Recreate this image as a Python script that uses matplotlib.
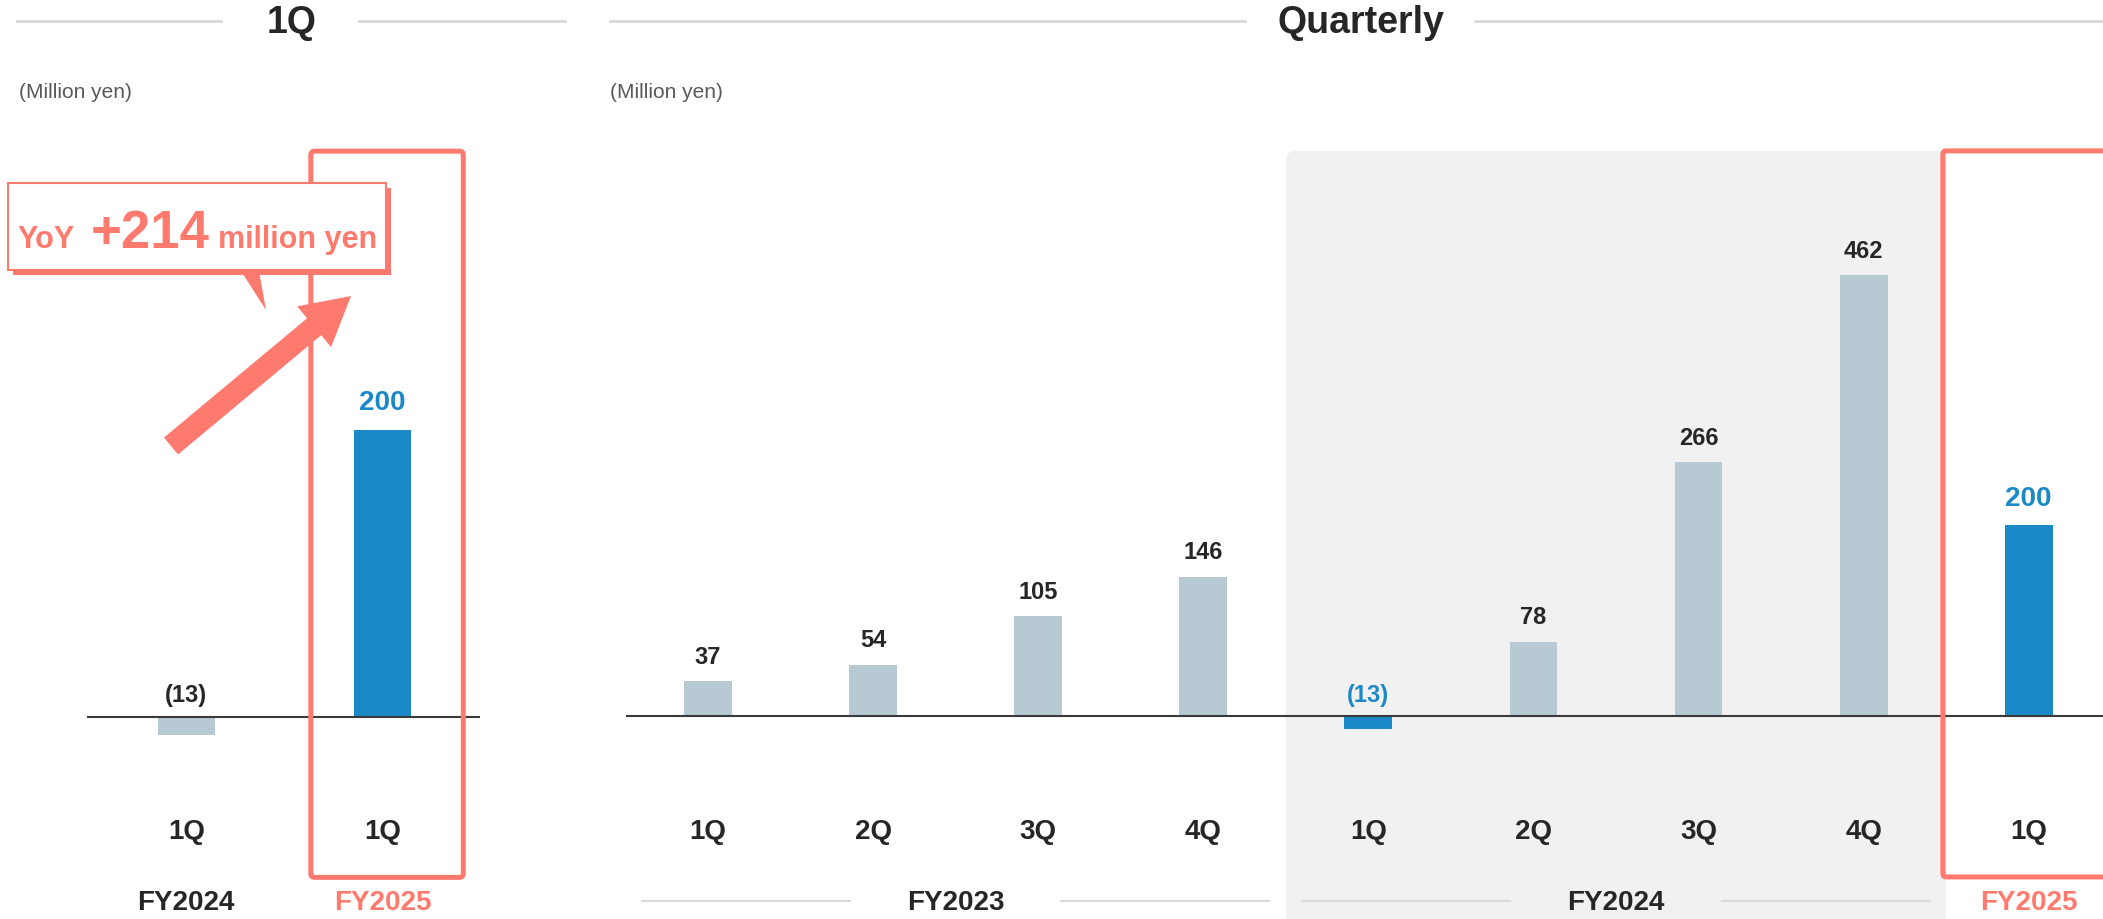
import matplotlib
matplotlib.use('Agg')
import matplotlib.pyplot as plt
from matplotlib.patches import Rectangle, FancyBboxPatch, FancyArrow, Polygon

plt.rcParams['font.family'] = ['Liberation Sans', 'DejaVu Sans']

# 1Q year-on-year
yoy_years = ['FY2024', 'FY2025']
yoy_quarters = ['1Q', '1Q']
yoy_values = [-13, 200]
yoy_diff = 214

# quarterly
q_quarters = ['1Q', '2Q', '3Q', '4Q', '1Q', '2Q', '3Q', '4Q', '1Q']
q_values = [37, 54, 105, 146, -13, 78, 266, 462, 200]
q_years = ['FY2023', 'FY2024', 'FY2025']
q_year_len = [4, 4, 1]

LIGHT = '#b7c9d3'
BLUE = '#1b88c8'
SALMON = '#ff7a6e'
DARK = '#262626'
GREYLINE = '#d9d9d9'

W, H = 2103, 920
fig = plt.figure(figsize=(W / 100, H / 100), dpi=100)


def fmt(v):
    return f'({abs(v)})' if v < 0 else str(v)


def draw_bars(ax, values, quarters, highlight):
    x = list(range(len(values)))
    colors = [BLUE if i in highlight else LIGHT for i in x]
    ax.bar(x, values, width=0.29, color=colors, zorder=2)
    ax.axhline(0, color='#3a3a3a', lw=1.5, zorder=3)
    for i, v in enumerate(values):
        big = i in highlight and v > 0
        col = BLUE if i in highlight else DARK
        off = 20 if big else (18 if v > 0 else 16)
        ax.annotate(fmt(v), (i, max(v, 0)), xytext=(0, off), textcoords='offset points',
                    ha='center', va='center', fontsize=20 if big else 17,
                    fontweight='bold', color=col)
    tr = ax.get_xaxis_transform()
    for i, q in enumerate(quarters):
        ax.text(i, 1 - 832 / H, q, transform=tr, ha='center', va='center',
                fontsize=20, fontweight='bold', color=DARK)
    ax.axis('off')


# left panel
ax1 = fig.add_axes([87 / W, 0, 393 / W, 1], zorder=1)
ax1.set_xlim(-0.505, 1.495)
ax1.set_ylim(-141, 500)
draw_bars(ax1, yoy_values, yoy_quarters, highlight=[1])
tr1 = ax1.get_xaxis_transform()
for i, yr in enumerate(yoy_years):
    ax1.text(i, 1 - 903 / H, yr, transform=tr1, ha='center', va='center',
             fontsize=20, fontweight='bold', color=SALMON if i == 1 else DARK)
ax1.add_patch(FancyBboxPatch((0.634, -112), 0.776, 506,
                             boxstyle='round,pad=0,rounding_size=0.02',
                             mutation_aspect=137, fill=False, ec=SALMON, lw=3.6, zorder=4))

# right panel
ax2 = fig.add_axes([625.5 / W, 0, (W - 625.5) / W, 1], zorder=1)
ax2.set_xlim(-0.5, 8.45)
ax2.set_ylim(-212, 751)
ax2.add_patch(FancyBboxPatch((3.5, -300), 4.0, 892, boxstyle='round,pad=0,rounding_size=0.06',
                             mutation_aspect=173, fc='#f1f1f1', ec='none', zorder=0))
draw_bars(ax2, q_values, q_quarters, highlight=[4, 8])
tr2 = ax2.get_xaxis_transform()
start = 0
for yr, n in zip(q_years, q_year_len):
    c = start + (n - 1) / 2
    last = yr == q_years[-1]
    ax2.text(c, 1 - 903 / H, yr, transform=tr2, ha='center', va='center',
             fontsize=20, fontweight='bold', color=SALMON if last else DARK)
    if n > 1:
        yl = 1 - 902 / H
        ax2.plot([c - 1.9, c - 0.64], [yl, yl], transform=tr2, color=GREYLINE, lw=1.5)
        ax2.plot([c + 0.64, c + 1.9], [yl, yl], transform=tr2, color=GREYLINE, lw=1.5)
    start += n
ax2.add_patch(FancyBboxPatch((7.48, -168), 1.5, 760, boxstyle='round,pad=0,rounding_size=0.02',
                             mutation_aspect=173, fill=False, ec=SALMON, lw=3.6, zorder=4))

# overlay in pixel coordinates for headers and the callout
ov = fig.add_axes([0, 0, 1, 1], zorder=2)
ov.set_xlim(0, W)
ov.set_ylim(H, 0)
ov.axis('off')

ov.plot([17, 221], [22, 22], color=GREYLINE, lw=2)
ov.plot([359, 565], [22, 22], color=GREYLINE, lw=2)
ov.text(292, 23, '1Q', ha='center', va='center', fontsize=27, fontweight='bold', color=DARK)
ov.plot([610, 1245], [22, 22], color=GREYLINE, lw=2)
ov.plot([1475, 2103], [22, 22], color=GREYLINE, lw=2)
ov.text(1361, 23, 'Quarterly', ha='center', va='center', fontsize=27, fontweight='bold', color=DARK)
ov.text(19, 92, '(Million yen)', ha='left', va='center', fontsize=15, color='#595959')
ov.text(610, 92, '(Million yen)', ha='left', va='center', fontsize=15, color='#595959')

# callout
ov.add_patch(Polygon([(241, 272), (259, 272), (266, 311)], closed=True, fc=SALMON, ec='none'))
ov.add_patch(Rectangle((13, 189), 378, 87, fc=SALMON, ec='none'))
ov.add_patch(Rectangle((8, 184), 378, 87, fc='white', ec=SALMON, lw=1.5))
ov.text(17, 248, 'YoY', ha='left', va='baseline', fontsize=22, fontweight='bold', color=SALMON)
ov.text(91, 248, f'+{yoy_diff}', ha='left', va='baseline', fontsize=38, fontweight='bold', color=SALMON)
ov.text(218, 248, 'million yen', ha='left', va='baseline', fontsize=22, fontweight='bold', color=SALMON)

ov.add_patch(FancyArrow(171, 447, 180, -150, width=22, head_width=53, head_length=48,
                        length_includes_head=True, fc=SALMON, ec='none'))

fig.savefig('out.png', dpi=100)
